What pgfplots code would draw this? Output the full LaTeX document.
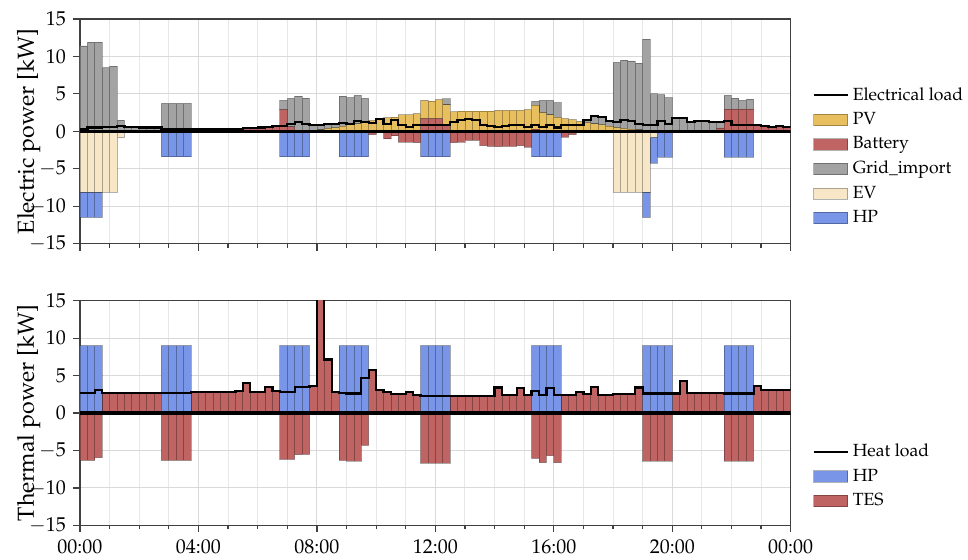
\documentclass[border=0pt]{standalone}
\usepackage[T1]{fontenc}
\usepackage{mathpazo}
\usepackage{pgfplots}
\usepackage{pgfplotstable}
\pgfplotsset{compat=1.18}

\definecolor{pvc}{RGB}{231,191,94}
\definecolor{batc}{RGB}{192,99,99}
\definecolor{gridc}{RGB}{163,163,163}
\definecolor{evc}{RGB}{247,231,199}
\definecolor{hpc}{RGB}{121,149,231}

% electrical side, 15 min steps: t = start of slot [h]
\pgfplotstableread{
t L bp pv gr bn ev hp
0.00 0.25 0 0 11.4 0 -8.1 -3.4
0.25 0.5 0 0 11.9 0 -8.1 -3.4
0.50 0.5 0 0 11.9 0 -8.1 -3.4
0.75 0.6 0 0 8.5 0 -8.1 0
1.00 0.6 0 0 8.7 0 -8.1 0
1.25 0.75 0 0 1.5 0 -0.85 0
1.50 0.55 0 0 0.55 0 0 0
1.75 0.55 0 0 0.55 0 0 0
2.00 0.5 0 0 0.5 0 0 0
2.25 0.5 0 0 0.5 0 0 0
2.50 0.5 0 0 0.5 0 0 0
2.75 0.35 0 0 3.75 0 0 -3.4
3.00 0.35 0 0 3.75 0 0 -3.4
3.25 0.35 0 0 3.75 0 0 -3.4
3.50 0.35 0 0 3.75 0 0 -3.4
3.75 0.3 0 0 0.3 0 0 0
4.00 0.3 0 0 0.3 0 0 0
4.25 0.3 0 0 0.3 0 0 0
4.50 0.3 0 0 0.3 0 0 0
4.75 0.3 0.3 0 0 0 0 0
5.00 0.3 0.3 0 0 0 0 0
5.25 0.3 0.3 0 0 0 0 0
5.50 0.4 0.4 0 0 0 0 0
5.75 0.45 0.45 0 0 0 0 0
6.00 0.5 0.5 0 0 0 0 0
6.25 0.55 0.55 0 0 0 0 0
6.50 0.7 0.7 0 0 0 0 0
6.75 0.75 2.9 0 1.25 0 0 -3.4
7.00 1.0 0.6 0 3.8 0 0 -3.4
7.25 1.3 0 0 4.7 0 0 -3.4
7.50 1.0 0 0 4.45 0 0 -3.4
7.75 0.9 0 0.1 0.8 0 0 0
8.00 0.9 0 0.2 0.7 0 0 0
8.25 1.0 0 0.4 0.6 0 0 0
8.50 1.0 0 0.5 0.5 0 0 0
8.75 1.1 0 0.7 4.0 0 0 -3.4
9.00 1.0 0 0.9 3.6 0 0 -3.4
9.25 1.4 0 1.0 3.8 0 0 -3.4
9.50 1.3 0 1.2 3.2 0 0 -3.4
9.75 1.15 0 1.47 0 -0.45 0 0
10.00 1.6 0 1.6 0 0 0 0
10.25 1.0 0 1.83 0 -1.0 0 0
10.50 1.47 0 1.9 0 -0.6 0 0
10.75 0.8 0 2.2 0 -1.45 0 0
11.00 0.6 0 2.2 0 -1.45 0 0
11.25 0.9 0 2.37 0 -1.5 0 0
11.50 0.85 1.7 2.45 0 0 0 -3.4
11.75 0.85 1.7 2.35 0 0 0 -3.4
12.00 0.9 1.7 2.55 0 0 0 -3.4
12.25 0.9 0.9 2.65 0.8 0 0 -3.4
12.50 1.25 0 2.6 0 -1.5 0 0
12.75 1.47 0 2.7 0 -1.45 0 0
13.00 1.7 0 2.7 0 -1.2 0 0
13.25 1.5 0 2.7 0 -1.2 0 0
13.50 0.9 0 2.7 0 -1.9 0 0
13.75 0.7 0 2.7 0 -2.0 0 0
14.00 0.6 0 2.8 0 -2.05 0 0
14.25 0.7 0 2.8 0 -2.0 0 0
14.50 0.8 0 2.8 0 -2.0 0 0
14.75 0.9 0 2.8 0 -1.9 0 0
15.00 0.6 0 2.9 0 -2.1 0 0
15.25 0.8 0.3 3.2 0.5 0 0 -3.4
15.50 0.6 0 2.5 1.65 0 0 -3.4
15.75 0.9 0 2.2 1.95 0 0 -3.4
16.00 0.5 0 1.9 1.95 0 0 -3.4
16.25 0.8 0 1.7 0 -0.76 0 0
16.50 0.9 0 1.56 0 -0.45 0 0
16.75 0.9 0 1.34 0 -0.2 0 0
17.00 1.47 0 1.16 0.31 0 0 0
17.25 2.0 0 1.0 1.0 0 0 0
17.50 1.95 0 0.9 1.05 0 0 0
17.75 1.34 0 0.7 0.64 0 0 0
18.00 1.25 0 0.5 8.7 0 -8.1 0
18.25 1.56 0 0.4 9.1 0 -8.1 0
18.50 1.34 0 0.3 9.1 0 -8.1 0
18.75 1.0 0 0.2 8.9 0 -8.1 0
19.00 0.85 0 0.1 12.2 0 -8.1 -3.4
19.25 0.9 0 0 5.0 0 -0.8 -3.44
19.50 1.4 0 0 4.9 0 0 -3.44
19.75 1.0 0 0 4.5 0 0 -3.44
20.00 1.83 0 0 1.83 0 0 0
20.25 1.75 0 0 1.75 0 0 0
20.50 1.2 0 0 1.2 0 0 0
20.75 1.34 0 0 1.34 0 0 0
21.00 1.34 0 0 1.34 0 0 0
21.25 1.2 0 0 1.2 0 0 0
21.50 1.2 0.45 0 0.75 0 0 0
21.75 1.4 2.95 0 1.85 0 0 -3.44
22.00 0.9 2.95 0 1.5 0 0 -3.44
22.25 0.85 2.95 0 1.2 0 0 -3.44
22.50 0.85 2.95 0 1.35 0 0 -3.44
22.75 0.9 0.9 0 0 0 0 0
23.00 0.7 0.7 0 0 0 0 0
23.25 0.6 0.6 0 0 0 0 0
23.50 0.7 0.7 0 0 0 0 0
23.75 0.6 0.6 0 0 0 0 0
24.00 0.6 0 0 0 0 0 0
}\elec

% thermal side
\pgfplotstableread{
t L hp tp tn
0.00 2.68 9 0 -6.32
0.25 2.68 9 0 -6.32
0.50 3.04 9 0 -5.96
0.75 2.68 0 2.68 0
1.00 2.68 0 2.68 0
1.25 2.68 0 2.68 0
1.50 2.68 0 2.68 0
1.75 2.68 0 2.68 0
2.00 2.68 0 2.68 0
2.25 2.68 0 2.68 0
2.50 2.68 0 2.68 0
2.75 2.68 9 0 -6.32
3.00 2.68 9 0 -6.32
3.25 2.68 9 0 -6.32
3.50 2.68 9 0 -6.32
3.75 2.77 0 2.77 0
4.00 2.77 0 2.77 0
4.25 2.77 0 2.77 0
4.50 2.77 0 2.77 0
4.75 2.77 0 2.77 0
5.00 2.77 0 2.77 0
5.25 2.9 0 2.9 0
5.50 3.97 0 3.97 0
5.75 2.8 0 2.8 0
6.00 2.8 0 2.8 0
6.25 3.44 0 3.44 0
6.50 2.9 0 2.9 0
6.75 2.8 9 0 -6.2
7.00 2.8 9 0 -6.2
7.25 3.44 9 0 -5.56
7.50 3.48 9 0 -5.52
7.75 3.57 0 3.57 0
8.00 15.5 0 15.5 0
8.25 7.14 0 7.14 0
8.50 2.77 0 2.77 0
8.75 2.68 9 0 -6.32
9.00 2.6 9 0 -6.4
9.25 2.6 9 0 -6.4
9.50 4.7 9 0 -4.3
9.75 5.7 0 5.7 0
10.00 3.1 0 3.1 0
10.25 2.8 0 2.8 0
10.50 2.5 0 2.5 0
10.75 2.5 0 2.5 0
11.00 2.8 0 2.8 0
11.25 2.37 0 2.37 0
11.50 2.3 9 0 -6.7
11.75 2.3 9 0 -6.7
12.00 2.3 9 0 -6.7
12.25 2.3 9 0 -6.7
12.50 2.23 0 2.23 0
12.75 2.23 0 2.23 0
13.00 2.23 0 2.23 0
13.25 2.23 0 2.23 0
13.50 2.23 0 2.23 0
13.75 2.23 0 2.23 0
14.00 3.4 0 3.4 0
14.25 2.37 0 2.37 0
14.50 2.37 0 2.37 0
14.75 3.3 0 3.3 0
15.00 2.37 0 2.37 0
15.25 2.95 9 0 -6.05
15.50 2.37 9 0 -6.63
15.75 3.3 9 0 -5.7
16.00 2.37 9 0 -6.63
16.25 2.37 0 2.37 0
16.50 2.37 0 2.37 0
16.75 2.8 0 2.8 0
17.00 2.5 0 2.5 0
17.25 3.48 0 3.48 0
17.50 2.37 0 2.37 0
17.75 2.37 0 2.37 0
18.00 2.5 0 2.5 0
18.25 2.5 0 2.5 0
18.50 2.5 0 2.5 0
18.75 3.4 0 3.4 0
19.00 2.6 9 0 -6.4
19.25 2.6 9 0 -6.4
19.50 2.6 9 0 -6.4
19.75 2.6 9 0 -6.4
20.00 2.6 0 2.6 0
20.25 4.3 0 4.3 0
20.50 2.72 0 2.72 0
20.75 2.72 0 2.72 0
21.00 2.72 0 2.72 0
21.25 2.72 0 2.72 0
21.50 2.72 0 2.72 0
21.75 2.6 9 0 -6.4
22.00 2.6 9 0 -6.4
22.25 2.6 9 0 -6.4
22.50 2.6 9 0 -6.4
22.75 3.57 0 3.57 0
23.00 3.08 0 3.08 0
23.25 3.08 0 3.08 0
23.50 3.08 0 3.08 0
23.75 3.08 0 3.08 0
24.00 3.08 0 0 0
}\heat

\pgfplotsset{
  base/.style={scale only axis, width=355.35pt, height=112.35pt,
    xmin=0, xmax=24, ymin=-15, ymax=15},
  frame/.style={base,
    xtick={0,4,...,24},
    minor xtick={1,2,3,5,6,7,9,10,11,13,14,15,17,18,19,21,22,23},
    ytick={-15,-10,...,15},
    grid=both, major grid style={black!15, line width=0.5pt},
    minor grid style={black!9, line width=0.5pt},
    tick align=outside, tick pos=left,
    major tick length=3.5pt, minor tick length=2pt,
    axis line style={black!75, line width=0.7pt},
    tick style={black!75, line width=0.6pt},
    ylabel style={at={(axis description cs:-0.072,0.5)}, anchor=center,
      font=\fontsize{11.6}{14}\selectfont}},
  bars/.style={bar width=0.25, draw=black, draw opacity=0.3, line width=0.4pt},
  lgd/.style={legend cell align=left,
    legend style={at={(axis description cs:1.03,#1)}, anchor=north west,
      draw=none, fill=none, inner sep=0pt, row sep=0.6pt,
      font=\fontsize{8.8}{10.5}\selectfont}},
}

\begin{document}
\begin{tikzpicture}
% ---- electric power ----
\begin{axis}[frame, at={(0,0)}, anchor=north west, ybar stacked,
    xticklabels={}, ylabel={Electric power [kW]}]
\addplot[bars, fill=batc] table[x expr=\thisrow{t}+0.125, y=bp]{\elec};
\addplot[bars, fill=pvc] table[x expr=\thisrow{t}+0.125, y=pv]{\elec};
\addplot[bars, fill=gridc] table[x expr=\thisrow{t}+0.125, y=gr]{\elec};
\end{axis}
\begin{axis}[base, at={(0,0)}, anchor=north west, hide axis, ybar stacked]
\addplot[bars, fill=batc] table[x expr=\thisrow{t}+0.125, y=bn]{\elec};
\addplot[bars, fill=evc] table[x expr=\thisrow{t}+0.125, y=ev]{\elec};
\addplot[bars, fill=hpc] table[x expr=\thisrow{t}+0.125, y=hp]{\elec};
\end{axis}
\begin{axis}[base, at={(0,0)}, anchor=north west, hide axis, lgd=0.715]
\addplot[black, line width=1.6pt, forget plot] coordinates {(0,0) (24,0)};
\addplot[black, line width=1.1pt, const plot mark left] table[x=t, y=L]{\elec};
\addlegendimage{area legend, fill=pvc, draw=black, draw opacity=0.3}
\addlegendimage{area legend, fill=batc, draw=black, draw opacity=0.3}
\addlegendimage{area legend, fill=gridc, draw=black, draw opacity=0.3}
\addlegendimage{area legend, fill=evc, draw=black, draw opacity=0.3}
\addlegendimage{area legend, fill=hpc, draw=black, draw opacity=0.3}
\legend{Electrical load, PV, Battery, Grid\_import, EV, HP}
\end{axis}

% ---- thermal power ----
\begin{axis}[frame, at={(0,-140.85pt)}, anchor=north west, ybar stacked,
    xticklabels={00:00,04:00,08:00,12:00,16:00,20:00,00:00},
    ylabel={Thermal power [kW]}]
\addplot[bars, fill=hpc] table[x expr=\thisrow{t}+0.125, y=hp]{\heat};
\addplot[bars, fill=batc] table[x expr=\thisrow{t}+0.125, y=tp]{\heat};
\end{axis}
\begin{axis}[base, at={(0,-140.85pt)}, anchor=north west, hide axis, ybar stacked]
\addplot[bars, fill=batc] table[x expr=\thisrow{t}+0.125, y=tn]{\heat};
\end{axis}
\begin{axis}[base, at={(0,-140.85pt)}, anchor=north west, hide axis, lgd=0.382]
\addplot[black, line width=1.6pt, forget plot] coordinates {(0,0) (24,0)};
\addplot[black, line width=1.1pt, const plot mark left] table[x=t, y=L]{\heat};
\addlegendimage{area legend, fill=hpc, draw=black, draw opacity=0.3}
\addlegendimage{area legend, fill=batc, draw=black, draw opacity=0.3}
\legend{Heat load, HP, TES}
\end{axis}

\pgfresetboundingbox
\path[use as bounding box] (-40pt,9.5pt) rectangle (444pt,-270.5pt);
\end{tikzpicture}
\end{document}
